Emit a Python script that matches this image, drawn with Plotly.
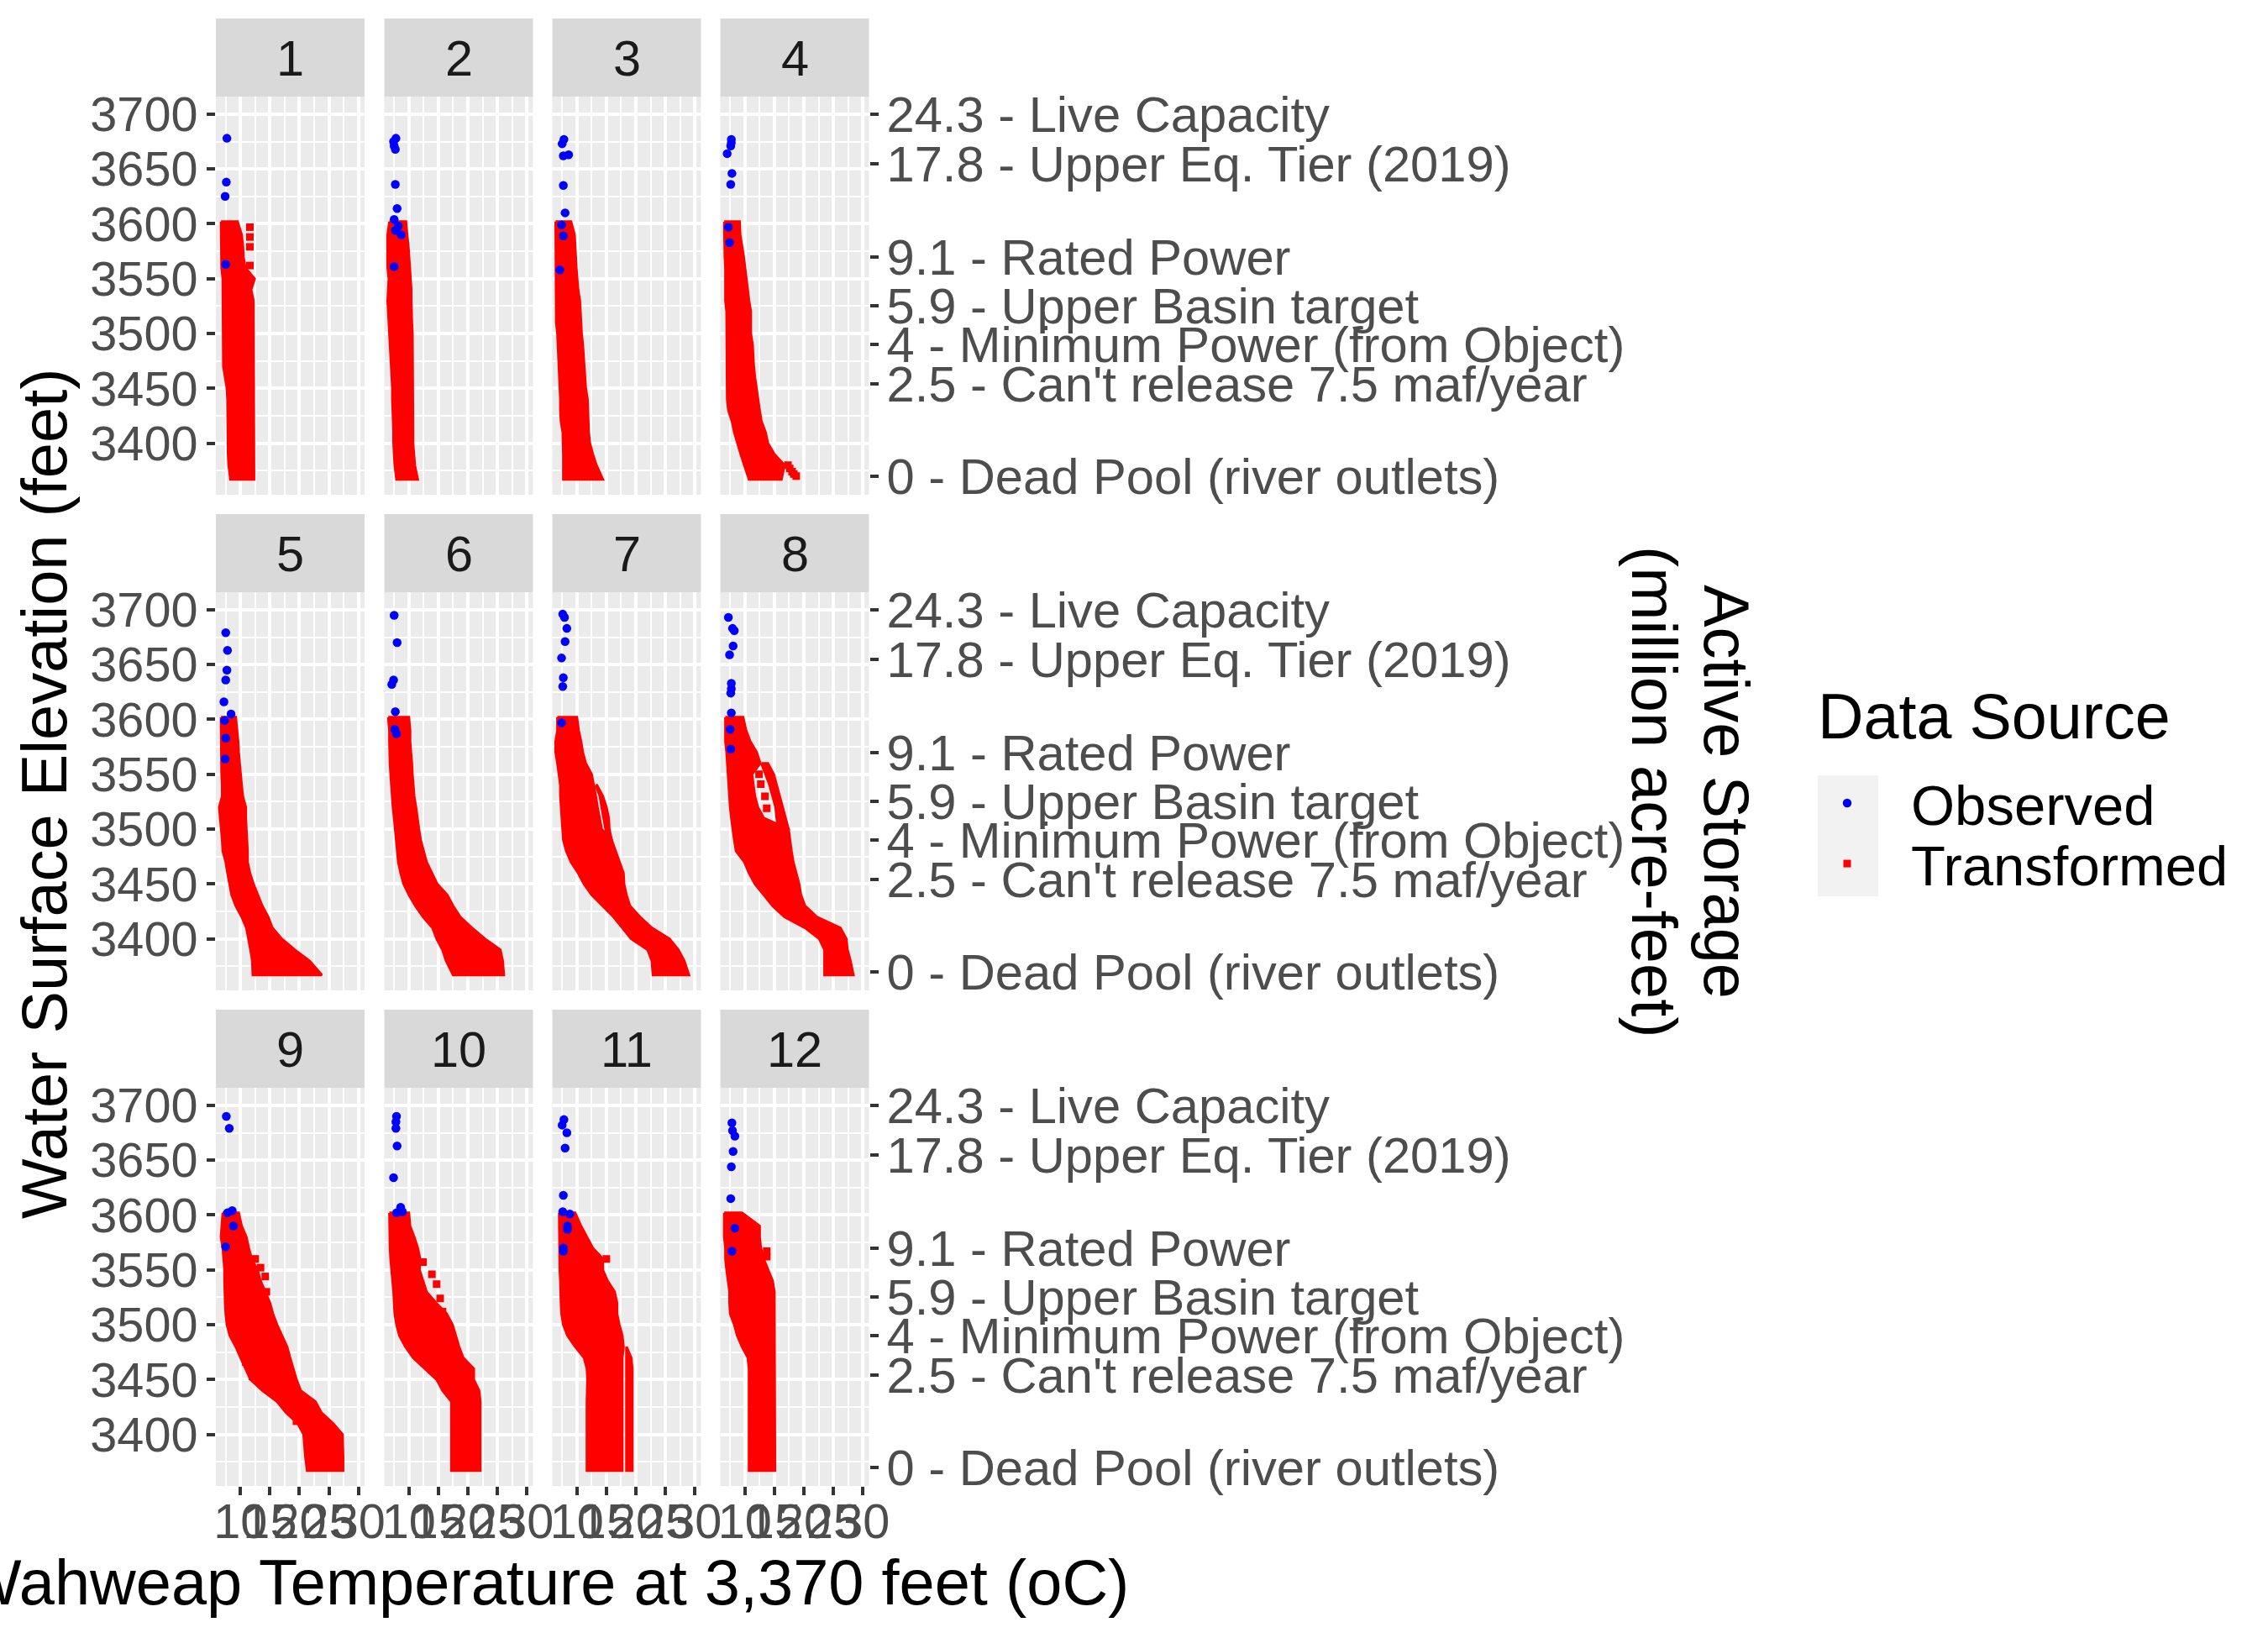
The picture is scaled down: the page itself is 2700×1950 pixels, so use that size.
import plotly.graph_objects as go

FONT = "Liberation Sans, Arial, sans-serif"
MONTHS = ["1", "2", "3", "4", "5", "6", "7", "8", "9", "10", "11", "12"]

ELEV_ROWS = [3602, 3590, 3580, 3570, 3560, 3550, 3540, 3530, 3520, 3510, 3500, 3490,
             3480, 3470, 3460, 3450, 3440, 3430, 3420, 3410, 3400, 3390, 3380, 3367]

LOW_01 = [6.7, 6.7, 6.7, 6.8, 6.8, 7.0, 7.0, 7.0, 7.1, 7.1, 7.1, 7.1, 7.1, 7.1, 7.4, 7.7, 7.8, 7.8, 7.8, 7.8, 7.8, 7.9, 8.0, 8.3]
HIGH_01 = [9.5, 10.2, 10.4, 10.5, 10.8, 12.4, 11.8, 12.2, 12.3, 12.3, 12.3, 12.3, 12.3, 12.3, 12.3, 12.3, 12.3, 12.3, 12.3, 12.3, 12.3, 12.3, 12.3, 12.3]
LOW_02 = [6.7, 6.4, 6.4, 6.4, 6.4, 6.6, 6.5, 6.4, 6.5, 6.6, 6.6, 6.8, 6.9, 7.0, 7.1, 7.2, 7.2, 7.3, 7.3, 7.4, 7.4, 7.5, 7.6, 7.9]
HIGH_02 = [9.5, 9.7, 9.9, 10.0, 10.2, 10.3, 10.4, 10.4, 10.4, 10.5, 10.6, 10.6, 10.6, 10.6, 10.6, 10.7, 10.7, 10.7, 10.7, 10.7, 10.7, 10.8, 11.0, 11.5]
LOW_03 = [6.4, 6.4, 6.4, 6.4, 6.4, 6.4, 6.4, 6.4, 6.4, 6.5, 6.7, 6.8, 6.9, 7.0, 7.0, 7.1, 7.2, 7.2, 7.3, 7.6, 7.7, 7.7, 7.7, 7.7]
HIGH_03 = [9.0, 9.6, 9.7, 9.8, 9.9, 10.0, 10.2, 10.5, 10.6, 10.7, 10.8, 11.0, 11.2, 11.3, 11.4, 11.5, 11.8, 11.9, 11.9, 12.0, 12.2, 12.7, 13.3, 14.4]
LOW_04 = [6.5, 6.5, 6.5, 6.6, 6.7, 6.7, 6.7, 6.7, 6.9, 6.9, 6.9, 7.0, 7.0, 7.0, 7.0, 7.0, 7.0, 7.2, 7.8, 8.2, 8.7, 9.3, 9.9, 10.7]
HIGH_04 = [9.1, 9.2, 9.5, 9.8, 10.0, 10.3, 10.5, 10.7, 11.0, 11.0, 11.0, 11.3, 11.4, 11.5, 11.7, 11.9, 12.2, 12.5, 12.8, 13.5, 13.9, 15.0, 16.7, 16.2]
LOW_05 = [6.7, 6.7, 6.8, 6.8, 6.8, 6.8, 6.9, 6.9, 6.4, 6.6, 6.7, 6.9, 7.0, 7.5, 7.8, 8.2, 8.5, 9.2, 10.2, 11.0, 11.4, 11.7, 12.0, 12.1]
HIGH_05 = [9.2, 9.4, 9.6, 9.7, 9.9, 10.0, 10.2, 10.4, 10.9, 10.9, 10.9, 11.1, 11.2, 11.2, 11.6, 12.2, 12.9, 13.7, 14.7, 15.4, 17.0, 19.2, 21.7, 23.8]
LOW_06 = [6.5, 6.7, 6.7, 6.7, 6.8, 6.9, 7.0, 7.2, 7.3, 7.5, 7.7, 7.9, 8.0, 8.2, 8.6, 9.1, 10.0, 11.1, 12.4, 14.0, 14.7, 15.7, 16.3, 17.5]
HIGH_06 = [10.0, 10.2, 10.2, 10.3, 10.5, 10.6, 10.7, 10.9, 11.2, 11.5, 11.7, 12.0, 12.5, 13.0, 13.9, 14.8, 16.5, 17.5, 18.7, 20.7, 22.9, 25.5, 25.9, 26.1]
LOW_07 = [6.7, 6.7, 6.4, 6.4, 6.7, 7.0, 7.2, 7.2, 7.3, 7.4, 7.5, 7.7, 8.2, 9.0, 10.2, 11.2, 12.5, 14.4, 16.2, 17.7, 19.2, 22.0, 22.7, 22.9]
HIGH_07 = [10.0, 10.3, 10.7, 11.0, 11.5, 12.5, 12.9, 13.2, 13.5, 13.8, 14.2, 15.9, 16.5, 17.2, 17.9, 18.0, 18.4, 19.0, 20.7, 22.7, 25.7, 27.2, 28.2, 29.0]
LOW_08 = [6.7, 6.7, 6.7, 6.9, 7.0, 7.1, 7.2, 7.3, 7.5, 7.7, 7.9, 8.2, 8.5, 9.9, 10.7, 11.7, 13.2, 14.7, 16.7, 20.2, 22.6, 23.5, 23.5, 23.5]
HIGH_08 = [9.7, 10.2, 10.9, 12.0, 12.6, 11.2, 11.5, 11.7, 12.2, 13.2, 17.4, 17.7, 17.9, 18.2, 18.7, 19.2, 19.5, 20.2, 22.2, 26.2, 27.2, 27.4, 27.9, 28.4]
LOW_09 = [7.0, 6.8, 6.7, 7.0, 7.2, 7.3, 7.3, 7.3, 7.4, 7.5, 7.7, 8.2, 9.2, 10.0, 10.9, 11.7, 13.7, 16.2, 17.7, 19.7, 20.7, 20.8, 21.0, 21.3]
HIGH_09 = [9.7, 10.2, 11.0, 11.4, 11.9, 12.9, 13.4, 14.2, 15.0, 15.5, 16.2, 17.0, 17.9, 18.4, 18.9, 19.5, 20.2, 22.7, 23.7, 25.7, 27.3, 27.4, 27.4, 27.4]
LOW_10 = [6.7, 6.7, 6.7, 6.8, 6.9, 7.1, 7.3, 7.4, 7.5, 7.6, 7.9, 8.4, 9.4, 10.7, 12.7, 14.7, 15.7, 17.2, 17.2, 17.2, 17.2, 17.2, 17.2, 17.2]
HIGH_10 = [10.0, 10.2, 10.9, 11.5, 11.9, 11.8, 12.4, 13.0, 14.6, 16.4, 17.4, 18.0, 18.5, 19.2, 21.0, 21.0, 21.9, 22.1, 22.1, 22.1, 22.1, 22.1, 22.1, 22.1]
LOW_11 = [7.0, 7.0, 7.0, 7.0, 7.0, 7.1, 7.2, 7.2, 7.3, 7.4, 7.7, 8.4, 9.7, 11.2, 11.7, 11.8, 11.7, 11.7, 11.7, 11.7, 11.7, 11.7, 11.7, 11.7]
HIGH_11 = [9.7, 10.7, 11.7, 12.7, 14.4, 14.4, 15.2, 16.4, 16.8, 16.8, 17.2, 17.7, 17.9, 17.7, 17.7, 17.7, 17.7, 17.7, 17.7, 17.7, 17.7, 17.7, 17.7, 17.7]
LOW_12 = [6.5, 6.5, 6.5, 6.7, 6.7, 6.9, 7.2, 7.4, 7.4, 7.5, 8.2, 8.7, 9.5, 10.5, 10.7, 10.7, 10.7, 10.7, 10.7, 10.7, 10.7, 10.7, 10.7, 10.7]
HIGH_12 = [9.5, 12.5, 12.5, 12.7, 13.2, 13.9, 14.7, 15.0, 15.1, 15.1, 15.1, 15.1, 15.1, 15.1, 15.1, 15.1, 15.1, 15.1, 15.1, 15.1, 15.1, 15.1, 15.1, 15.1]

# second band of red where the cloud splits around a gap: elevation, from, to
EXTRA_E_07 = [3540, 3530, 3520, 3510, 3500, 3490]
EXTRA_L_07 = [13.2, 13.9, 14.2, 14.5, 14.9, 15.2]
EXTRA_H_07 = [13.4, 14.4, 15.0, 15.4, 15.5, 15.9]
EXTRA_E_08 = [3560, 3550, 3540, 3530, 3520, 3510, 3500]
EXTRA_L_08 = [12.8, 13.5, 14.2, 14.7, 15.2, 15.4, 15.6]
EXTRA_H_08 = [13.9, 14.9, 15.5, 16.0, 16.5, 16.9, 17.4]
EXTRA_E_11 = [3480, 3470, 3460, 3450, 3440, 3430, 3420, 3410, 3400, 3390, 3380, 3367]
EXTRA_L_11 = [18.4, 18.4, 18.4, 18.4, 18.4, 18.4, 18.4, 18.4, 18.4, 18.4, 18.4, 18.4]
EXTRA_H_11 = [18.5, 19.2, 19.4, 19.4, 19.4, 19.4, 19.4, 19.4, 19.4, 19.4, 19.4, 19.4]

# isolated transformed squares
SQ_T_01 = [11.6, 11.6, 11.6, 11.6]
SQ_E_01 = [3597, 3588, 3579, 3562]
SQ_T_04 = [17.3, 17.6, 18.0, 18.3, 18.7]
SQ_E_04 = [3380, 3377, 3374, 3372, 3370]
SQ_T_08 = [12.4, 12.7, 13.4, 13.7]
SQ_E_08 = [3550, 3541, 3530, 3519]
SQ_T_09 = [10.9, 12.0, 14.4, 19.5, 12.5, 13.4, 14.2, 14.4]
SQ_E_09 = [3466, 3453, 3442, 3412, 3560, 3552, 3544, 3530]
SQ_T_10 = [12.4, 13.9, 14.7, 15.3, 15.7]
SQ_E_10 = [3557, 3546, 3537, 3524, 3512]
SQ_T_11 = [15.0]
SQ_E_11 = [3560]
SQ_T_12 = [13.7, 13.7]
SQ_E_12 = [3567, 3562]

OBS_T_01 = [7.7, 7.6, 7.4, 7.5]
OBS_E_01 = [3678, 3638, 3625, 3563]
OBS_T_02 = [7.8, 7.4, 7.5, 7.7, 7.7, 8.0, 7.5, 8.2, 7.7, 8.7, 7.5]
OBS_E_02 = [3678, 3675, 3671, 3668, 3636, 3614, 3604, 3598, 3594, 3590, 3561]
OBS_T_03 = [7.8, 7.5, 7.7, 8.6, 7.7, 8.0, 7.4, 7.7, 7.1]
OBS_E_03 = [3677, 3673, 3662, 3663, 3635, 3610, 3599, 3589, 3558]
OBS_T_04 = [7.7, 7.7, 7.6, 7.0, 7.8, 7.6, 7.2, 7.4]
OBS_E_04 = [3677, 3674, 3671, 3664, 3646, 3636, 3597, 3583]
OBS_T_05 = [7.5, 7.8, 7.7, 7.5, 7.2, 8.4, 7.3, 7.5, 7.4]
OBS_E_05 = [3679, 3663, 3645, 3636, 3616, 3605, 3599, 3583, 3564]
OBS_T_06 = [7.5, 8.0, 7.4, 7.1, 7.7, 7.6, 7.9]
OBS_E_06 = [3695, 3670, 3636, 3632, 3607, 3591, 3587]
OBS_T_07 = [7.6, 7.9, 8.3, 8.0, 7.4, 7.7, 7.6, 7.4]
OBS_E_07 = [3696, 3693, 3683, 3671, 3656, 3638, 3630, 3597]
OBS_T_08 = [7.2, 7.9, 8.2, 8.0, 7.4, 7.7, 7.7, 7.6, 7.7, 7.5, 7.6]
OBS_E_08 = [3693, 3683, 3681, 3667, 3659, 3633, 3628, 3624, 3606, 3591, 3573]
OBS_T_09 = [7.6, 8.1, 7.8, 8.6, 8.8, 7.5]
OBS_E_09 = [3690, 3679, 3602, 3604, 3590, 3571]
OBS_T_10 = [7.9, 7.8, 7.8, 8.0, 7.4, 8.6, 7.9, 8.9]
OBS_E_10 = [3690, 3685, 3679, 3663, 3634, 3607, 3602, 3603]
OBS_T_11 = [7.8, 7.5, 8.3, 8.0, 7.7, 7.6, 8.8, 8.4, 8.4, 7.7, 7.7]
OBS_E_11 = [3687, 3682, 3675, 3661, 3618, 3603, 3601, 3590, 3587, 3570, 3567]
OBS_T_12 = [7.8, 7.9, 8.3, 8.0, 7.7, 7.6, 8.3, 7.8]
OBS_E_12 = [3684, 3677, 3672, 3658, 3644, 3615, 3588, 3567]

STORAGE_ELEV = [3700, 3655, 3570, 3525, 3490, 3454, 3370]
STORAGE_LABELS = ["24.3 - Live Capacity", "17.8 - Upper Eq. Tier (2019)", "9.1 - Rated Power",
                  "5.9 - Upper Basin target", "4 - Minimum Power (from Object)",
                  "2.5 - Can't release 7.5 maf/year", "0 - Dead Pool (river outlets)"]
Y_TICKS = [3400, 3450, 3500, 3550, 3600, 3650, 3700]
X_TICKS = [10, 15, 20, 25, 30]

LOWS = [LOW_01, LOW_02, LOW_03, LOW_04, LOW_05, LOW_06, LOW_07, LOW_08, LOW_09, LOW_10, LOW_11, LOW_12]
HIGHS = [HIGH_01, HIGH_02, HIGH_03, HIGH_04, HIGH_05, HIGH_06, HIGH_07, HIGH_08, HIGH_09, HIGH_10, HIGH_11, HIGH_12]
OBS_T = [OBS_T_01, OBS_T_02, OBS_T_03, OBS_T_04, OBS_T_05, OBS_T_06, OBS_T_07, OBS_T_08, OBS_T_09, OBS_T_10, OBS_T_11, OBS_T_12]
OBS_E = [OBS_E_01, OBS_E_02, OBS_E_03, OBS_E_04, OBS_E_05, OBS_E_06, OBS_E_07, OBS_E_08, OBS_E_09, OBS_E_10, OBS_E_11, OBS_E_12]
EXTRAS = {6: (EXTRA_E_07, EXTRA_L_07, EXTRA_H_07), 7: (EXTRA_E_08, EXTRA_L_08, EXTRA_H_08), 10: (EXTRA_E_11, EXTRA_L_11, EXTRA_H_11)}
SQUARES = {0: (SQ_T_01, SQ_E_01), 3: (SQ_T_04, SQ_E_04), 7: (SQ_T_08, SQ_E_08), 8: (SQ_T_09, SQ_E_09), 9: (SQ_T_10, SQ_E_10), 10: (SQ_T_11, SQ_E_11), 11: (SQ_T_12, SQ_E_12)}

W, H = 2700.0, 1950.0
COL_L = [257, 457.5, 657.5, 857.5]
PANEL_W = 177
ROW_T = [115, 705, 1295]
PANEL_H = 474
STRIP_H = 93
X_RANGE = [5.83, 31.04]
Y_RANGE = [3353, 3716]
RED, BLUE = "#FF0000", "#0000FF"
X_TICK_FONT = dict(family=FONT, size=57.6, color="#4D4D4D")
Y_TICK_FONT = dict(family=FONT, size=57.6, color="#4D4D4D")
R_TICK_FONT = dict(family=FONT, size=59.7, color="#4D4D4D")

fig = go.Figure()
shapes, annotations = [], []
layout = {}


def band(elev, low, high):
    """Outline of a red band, going down its low edge and back up its high edge."""
    return list(low) + list(high)[::-1] + [low[0], None], list(elev) + list(elev)[::-1] + [elev[0], None]


for i in range(12):
    r, c = i // 4, i % 4
    n = i + 1
    xn, yn = f"x{n}", f"y{n}"
    x0, x1 = COL_L[c], COL_L[c] + PANEL_W
    y0, y1 = ROW_T[r], ROW_T[r] + PANEL_H
    layout[f"xaxis{n}"] = dict(
        domain=[x0 / W, x1 / W], range=X_RANGE, anchor=yn, showline=False, zeroline=False,
        tick0=0, dtick=5, gridcolor="white", gridwidth=3.5, showgrid=True,
        minor=dict(dtick=2.5, tick0=0, showgrid=True, gridcolor="white", gridwidth=1.8),
        showticklabels=r == 2, ticks="outside" if r == 2 else "", ticklen=10, tickwidth=3.5,
        tickcolor="#333333", tickfont=X_TICK_FONT, tickangle=0, ticklabelstandoff=-18,
        tickmode="array", tickvals=X_TICKS, ticktext=[str(v) for v in X_TICKS])
    layout[f"yaxis{n}"] = dict(
        domain=[1 - y1 / H, 1 - y0 / H], range=Y_RANGE, anchor=xn, showline=False, zeroline=False,
        gridcolor="white", gridwidth=3.5, showgrid=True,
        minor=dict(dtick=25, tick0=0, showgrid=True, gridcolor="white", gridwidth=1.8),
        showticklabels=c == 0, ticks="outside" if c == 0 else "", ticklen=10, tickwidth=3.5,
        tickcolor="#333333", tickfont=Y_TICK_FONT, ticklabelstandoff=-1,
        tickmode="array", tickvals=Y_TICKS, ticktext=[str(v) for v in Y_TICKS])
    shapes.append(dict(type="rect", xref="paper", yref="paper", x0=x0 / W, x1=x1 / W,
                       y0=1 - y0 / H, y1=1 - (y0 - STRIP_H) / H,
                       fillcolor="#D9D9D9", line_width=0, layer="below"))
    annotations.append(dict(text=MONTHS[i], xref="paper", yref="paper",
                            x=(x0 + x1) / 2 / W, y=1 - (y0 - STRIP_H / 2 + 1) / H,
                            showarrow=False, xanchor="center", yanchor="middle",
                            font=dict(family=FONT, size=59.5, color="#1A1A1A")))

    xs, ys = band(ELEV_ROWS, LOWS[i], HIGHS[i])
    if i in EXTRAS:
        ex, ey = band(EXTRAS[i][0], EXTRAS[i][1], EXTRAS[i][2])
        xs += ex
        ys += ey
    fig.add_trace(go.Scatter(x=xs, y=ys, xaxis=xn, yaxis=yn, mode="lines", showlegend=False,
                             line=dict(color=RED, width=3), fill="toself", fillcolor=RED,
                             hoverinfo="skip"))
    if i in SQUARES:
        fig.add_trace(go.Scatter(x=SQUARES[i][0], y=SQUARES[i][1], xaxis=xn, yaxis=yn, mode="markers",
                                 name="Transformed", legend="legend2", showlegend=i == 0,
                                 marker=dict(symbol="square", size=9, color=RED, line_width=0)))

for i in range(12):
    n = i + 1
    fig.add_trace(go.Scatter(x=OBS_T[i], y=OBS_E[i], xaxis=f"x{n}", yaxis=f"y{n}", mode="markers",
                             name="Observed", legend="legend", showlegend=i == 0,
                             marker=dict(symbol="circle", size=10.5, color=BLUE, line_width=0)))

# secondary (storage) axes on the right of each row
for k, base in enumerate([4, 8, 12]):
    n = 13 + k
    layout[f"yaxis{n}"] = dict(
        overlaying=f"y{base}", anchor=f"x{base}", side="right", range=Y_RANGE, showgrid=False,
        zeroline=False, showline=False, ticks="outside", ticklen=10, tickwidth=3.5,
        tickcolor="#333333", tickfont=R_TICK_FONT, tickmode="array", tickvals=STORAGE_ELEV,
        ticktext=STORAGE_LABELS, ticklabelstandoff=-2)
    fig.add_trace(go.Scatter(x=[None], y=[None], xaxis=f"x{base}", yaxis=f"y{n}", mode="markers",
                             showlegend=False, hoverinfo="skip"))

TITLE = dict(family=FONT, size=75.8, color="black")
annotations += [
    dict(text="Water Surface Elevation (feet)", xref="paper", yref="paper", x=52 / W, y=1 - 945 / H,
         textangle=-90, showarrow=False, xanchor="center", yanchor="middle", font=TITLE),
    dict(text="Wahweap Temperature at 3,370 feet (oC)", xref="paper", yref="paper", x=649 / W, y=1 - 1883 / H,
         showarrow=False, xanchor="center", yanchor="middle", font=TITLE),
    dict(text="Active Storage", xref="paper", yref="paper", x=2056 / W, y=1 - 942 / H,
         textangle=90, showarrow=False, xanchor="center", yanchor="middle", font=TITLE),
    dict(text="(million acre-feet)", xref="paper", yref="paper", x=1970 / W, y=1 - 942 / H,
         textangle=90, showarrow=False, xanchor="center", yanchor="middle", font=TITLE),
    dict(text="Data Source", xref="paper", yref="paper", x=2162 / W, y=1 - 853 / H,
         showarrow=False, xanchor="left", yanchor="middle", font=dict(family=FONT, size=75.5, color="black")),
]
shapes.append(dict(type="rect", xref="paper", yref="paper", x0=2164 / W, x1=2236 / W,
                   y0=1 - 1067 / H, y1=1 - 923 / H, fillcolor="#F2F2F2", line_width=0, layer="below"))

LEGEND_STYLE = dict(xanchor="left", yanchor="top", itemwidth=142, bgcolor="rgba(0,0,0,0)", borderwidth=0,
                    font=dict(family=FONT, size=67, color="black"))
fig.update_layout(
    width=2700, height=1950, margin=dict(l=0, r=0, t=0, b=0, autoexpand=False),
    paper_bgcolor="white", plot_bgcolor="#EBEBEB", font=dict(family=FONT),
    shapes=shapes, annotations=annotations,
    legend=dict(x=2123 / W, y=1 - 906 / H, **LEGEND_STYLE),
    legend2=dict(x=2123 / W, y=1 - 978 / H, **LEGEND_STYLE),
    **layout)

fig.write_html("out.html", config=dict(displayModeBar=False),
               post_script="document.body.style.margin='0';")
